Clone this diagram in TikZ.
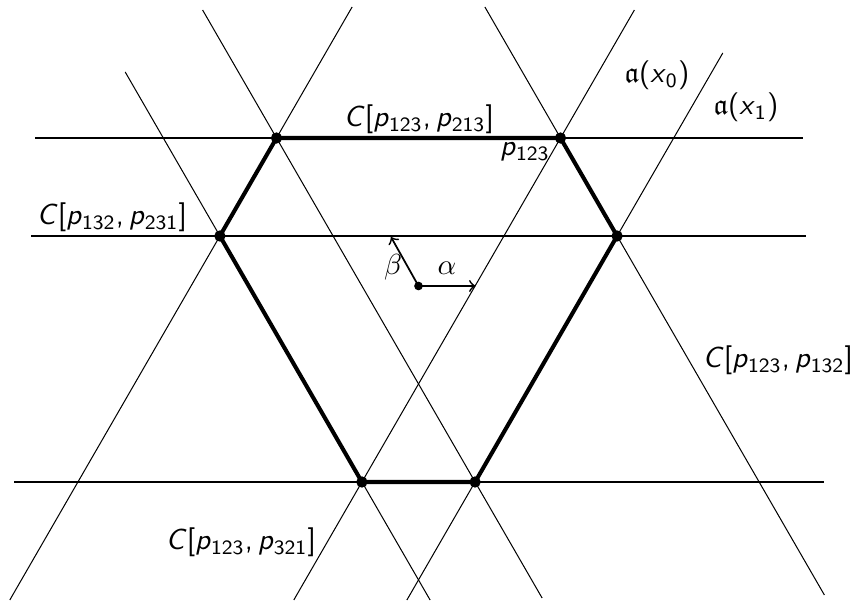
\documentclass[tikz,border=0pt]{standalone}
\usepackage{amssymb}
\usetikzlibrary{calc}
\newcommand{\sfi}[1]{\textit{#1}}
\newcommand{\sub}[1]{\textsubscript{\upshape #1}}
\begin{document}
\begin{tikzpicture}[x=0.345pt,y=-0.345pt,
  gridline/.style={line width=0.35pt},
  hexedge/.style={line width=1.4pt,line join=round},
  vdot/.style={circle,fill,inner sep=0pt,minimum size=3.9pt},
  cdot/.style={circle,fill,inner sep=0pt,minimum size=3pt},
  lab/.style={inner sep=0pt,font=\sffamily},
  glab/.style={inner sep=0pt},
  vec/.style={->,line width=0.6pt}]
\useasboundingbox (0,0) rectangle (856,601);
% hexagon vertices
\coordinate (A) at (276.5,138);
\coordinate (B) at (560.5,138);
\coordinate (C) at (617.1,236);
\coordinate (D) at (475.1,482);
\coordinate (E) at (361.9,482);
\coordinate (F) at (219.9,236);
\coordinate (O) at (418.5,286);
% horizontal lines
\coordinate (H1s) at (35,138);  \coordinate (H1e) at (803,138);
\coordinate (H2s) at (31,236);  \coordinate (H2e) at (806,236);
\coordinate (H3s) at (14,482);  \coordinate (H3e) at (824,482);
% down-right lines
\coordinate (L1s) at (125.2,72);  \coordinate (L1e) at (430.1,600);
\coordinate (L2s) at (202.6,10);  \coordinate (L2e) at (542.1,598);
\coordinate (L3s) at (484.9,7);   \coordinate (L3e) at (824.4,595);
% down-left lines
\coordinate (M1s) at (352.1,7);   \coordinate (M1e) at (9.8,600);
\coordinate (M2s) at (634.4,10);  \coordinate (M2e) at (293.8,600);
\coordinate (M3s) at (722.8,53);  \coordinate (M3e) at (406.9,600);
\foreach \n in {H1,H2,H3,L1,L2,L3,M1,M2,M3}
  \draw[gridline] (\n s) -- (\n e);
% hexagon
\draw[hexedge] (A) -- (B) -- (C) -- (D) -- (E) -- (F) -- cycle;
\foreach \v in {A,B,C,D,E,F}
  \node[vdot] (d\v) at (\v) {};
% root vectors
\node[cdot] (dO) at (O) {};
\coordinate (alphaend) at ($(O)+(57,0)$);
\coordinate (betaend) at (391,237);
\draw[vec] (dO.center) -- (alphaend);
\draw[vec] (dO.center) -- (betaend);
\node[glab,anchor=base] (la) at (447,275) {$\alpha$};
\node[glab,anchor=base] (lb) at (393,275) {$\beta$};
% labels
\node[lab,anchor=base] (t1) at (419,127) {\sfi{C}[\sfi{p}\sub{123},\,\sfi{p}\sub{213}]};
\node[lab,anchor=base] (t2) at (525,156) {\sfi{p}\sub{123}};
\node[lab,anchor=base] (t3) at (112,225) {\sfi{C}[\sfi{p}\sub{132},\,\sfi{p}\sub{231}]};
\node[lab,anchor=base] (t4) at (657,83) {$\mathfrak{a}$(\sfi{x}\sub{0})};
\node[lab,anchor=base] (t5) at (746,115) {$\mathfrak{a}$(\sfi{x}\sub{1})};
\node[lab,anchor=base] (t6) at (778,368) {\sfi{C}[\sfi{p}\sub{123},\,\sfi{p}\sub{132}]};
\node[lab,anchor=base] (t7) at (241,550) {\sfi{C}[\sfi{p}\sub{123},\,\sfi{p}\sub{321}]};
\end{tikzpicture}
\end{document}
